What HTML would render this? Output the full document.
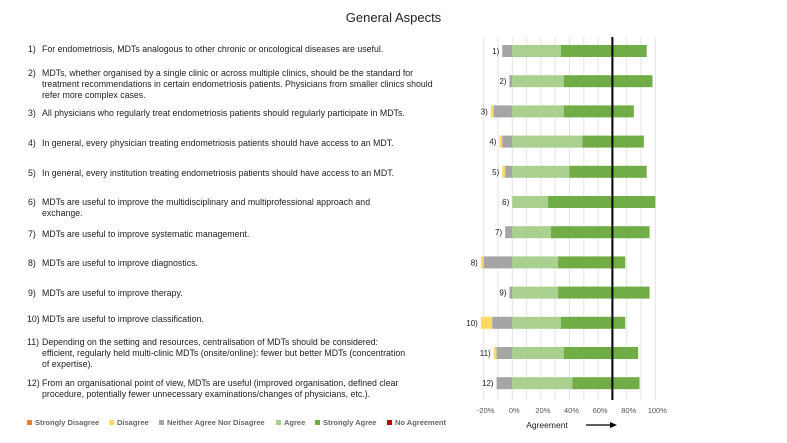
<!DOCTYPE html>
<html><head><meta charset="utf-8"><style>
body{margin:0;width:787px;height:443px;background:#fff;position:relative;overflow:hidden;font-family:"Liberation Sans",sans-serif;}
.t{position:absolute;font-size:8.8px;line-height:11px;color:#222;white-space:nowrap;}
.t .n{position:absolute;left:-14px;}
.leg{position:absolute;top:418px;font-size:7.5px;color:#666;font-weight:bold;white-space:nowrap;}
.leg i{display:inline-block;width:5px;height:5px;margin-right:3px;vertical-align:0px;}
</style></head><body>
<div style="position:absolute;top:10px;left:0;width:787px;text-align:center;font-size:13px;color:#222;">General Aspects</div>
<div class="t" style="left:42px;top:44px"><span class="n">1)</span>For endometriosis, MDTs analogous to other chronic or oncological diseases are useful.</div>
<div class="t" style="left:42px;top:68px"><span class="n">2)</span>MDTs, whether organised by a single clinic or across multiple clinics, should be the standard for<br>treatment recommendations in certain endometriosis patients. Physicians from smaller clinics should<br>refer more complex cases.</div>
<div class="t" style="left:42px;top:108px"><span class="n">3)</span>All physicians who regularly treat endometriosis patients should regularly participate in MDTs.</div>
<div class="t" style="left:42px;top:138px"><span class="n">4)</span>In general, every physician treating endometriosis patients should have access to an MDT.</div>
<div class="t" style="left:42px;top:168px"><span class="n">5)</span>In general, every institution treating endometriosis patients should have access to an MDT.</div>
<div class="t" style="left:42px;top:197px"><span class="n">6)</span>MDTs are useful to improve the multidisciplinary and multiprofessional approach and<br>exchange.</div>
<div class="t" style="left:42px;top:229px"><span class="n">7)</span>MDTs are useful to improve systematic management.</div>
<div class="t" style="left:42px;top:258px"><span class="n">8)</span>MDTs are useful to improve diagnostics.</div>
<div class="t" style="left:42px;top:288px"><span class="n">9)</span>MDTs are useful to improve therapy.</div>
<div class="t" style="left:42px;top:314px"><span class="n" style="left:-15px">10)</span>MDTs are useful to improve classification.</div>
<div class="t" style="left:42px;top:337px"><span class="n" style="left:-15px">11)</span>Depending on the setting and resources, centralisation of MDTs should be considered:<br>efficient, regularly held multi-clinic MDTs (onsite/online): fewer but better MDTs (concentration<br>of expertise).</div>
<div class="t" style="left:42px;top:378px"><span class="n" style="left:-15px">12)</span>From an organisational point of view, MDTs are useful (improved organisation, defined clear<br>procedure, potentially fewer unnecessary examinations/changes of physicians, etc.).</div>

<div class="leg" style="left:27px"><i style="background:#ed7d31"></i>Strongly Disagree</div>
<div class="leg" style="left:109px"><i style="background:#ffd966"></i>Disagree</div>
<div class="leg" style="left:159px"><i style="background:#a5a5a5"></i>Neither Agree Nor Disagree</div>
<div class="leg" style="left:276px"><i style="background:#a9d08e"></i>Agree</div>
<div class="leg" style="left:315px"><i style="background:#70ad47"></i>Strongly Agree</div>
<div class="leg" style="left:387px"><i style="background:#c00000"></i>No Agreement</div>

<svg id="chart" width="787" height="443" style="position:absolute;left:0;top:0"></svg>
<script>
const labels=["1)","2)","3)","4)","5)","6)","7)","8)","9)","10)","11)","12)"];
const disagree=[0,0,2,2,2,0,0,2,0,8,2,0];
const neutral=[7,2,13,7,5,0,5,20,2,14,11,11];
const agree=[34,36,36,49,40,25,27,32,32,34,36,42];
const strongly=[60,62,49,43,54,75,69,47,64,45,52,47];
const ticks=[-20,-10,0,10,20,30,40,50,60,70,80,90,100];
const tickLabels=["-20%","0%","20%","40%","60%","80%","100%"];
const tickLabelVals=[-20,0,20,40,60,80,100];
const threshold=70;
const NS="http://www.w3.org/2000/svg";
const svg=document.getElementById('chart');
const x=v=>512.3+v*1.43;
const y=i=>51+i*30.2;
function mk(tag,a){const e=document.createElementNS(NS,tag);for(const k in a)e.setAttribute(k,a[k]);svg.appendChild(e);return e;}
ticks.forEach(t=>{const g=mk('line',{x1:x(t),x2:x(t),y1:37,y2:400,stroke:'#e3e3e3','stroke-width':1});

});
tickLabelVals.forEach((t,i)=>{const e=mk('text',{x:x(t)+2,y:413,'text-anchor':'middle','font-size':7.5,fill:'#555','font-family':'Liberation Sans, sans-serif'});e.textContent=tickLabels[i];

});
const cols=['#ffd966','#a5a5a5','#a9d08e','#70ad47'];
labels.forEach((l,i)=>{
 const segs=[[-neutral[i]-disagree[i],-neutral[i]],[-neutral[i],0],[0,agree[i]],[agree[i],agree[i]+strongly[i]]];
 segs.forEach((s,j)=>{if(s[1]-s[0]<=0)return;
  const r=mk('rect',{x:x(s[0]),y:y(i)-6,width:x(s[1])-x(s[0]),height:12,fill:cols[j]});
  
  });
 const tx=mk('text',{x:x(-neutral[i]-disagree[i])-3,y:y(i)+3,'text-anchor':'end','font-size':8,fill:'#222','font-family':'Liberation Sans, sans-serif'});
 tx.textContent=l;
 
 
});
const th=mk('line',{x1:x(threshold),x2:x(threshold),y1:37,y2:400,stroke:'#000','stroke-width':2});


const at=mk('text',{x:547,y:428,'text-anchor':'middle','font-size':8.5,fill:'#222','font-family':'Liberation Sans, sans-serif'});at.textContent='Agreement';


const ar=mk('line',{x1:586,x2:612,y1:425,y2:425,stroke:'#000','stroke-width':1.2});


const ah=mk('polygon',{points:'617,425 610,422 610,428',fill:'#000'});


</script>
</body></html>
